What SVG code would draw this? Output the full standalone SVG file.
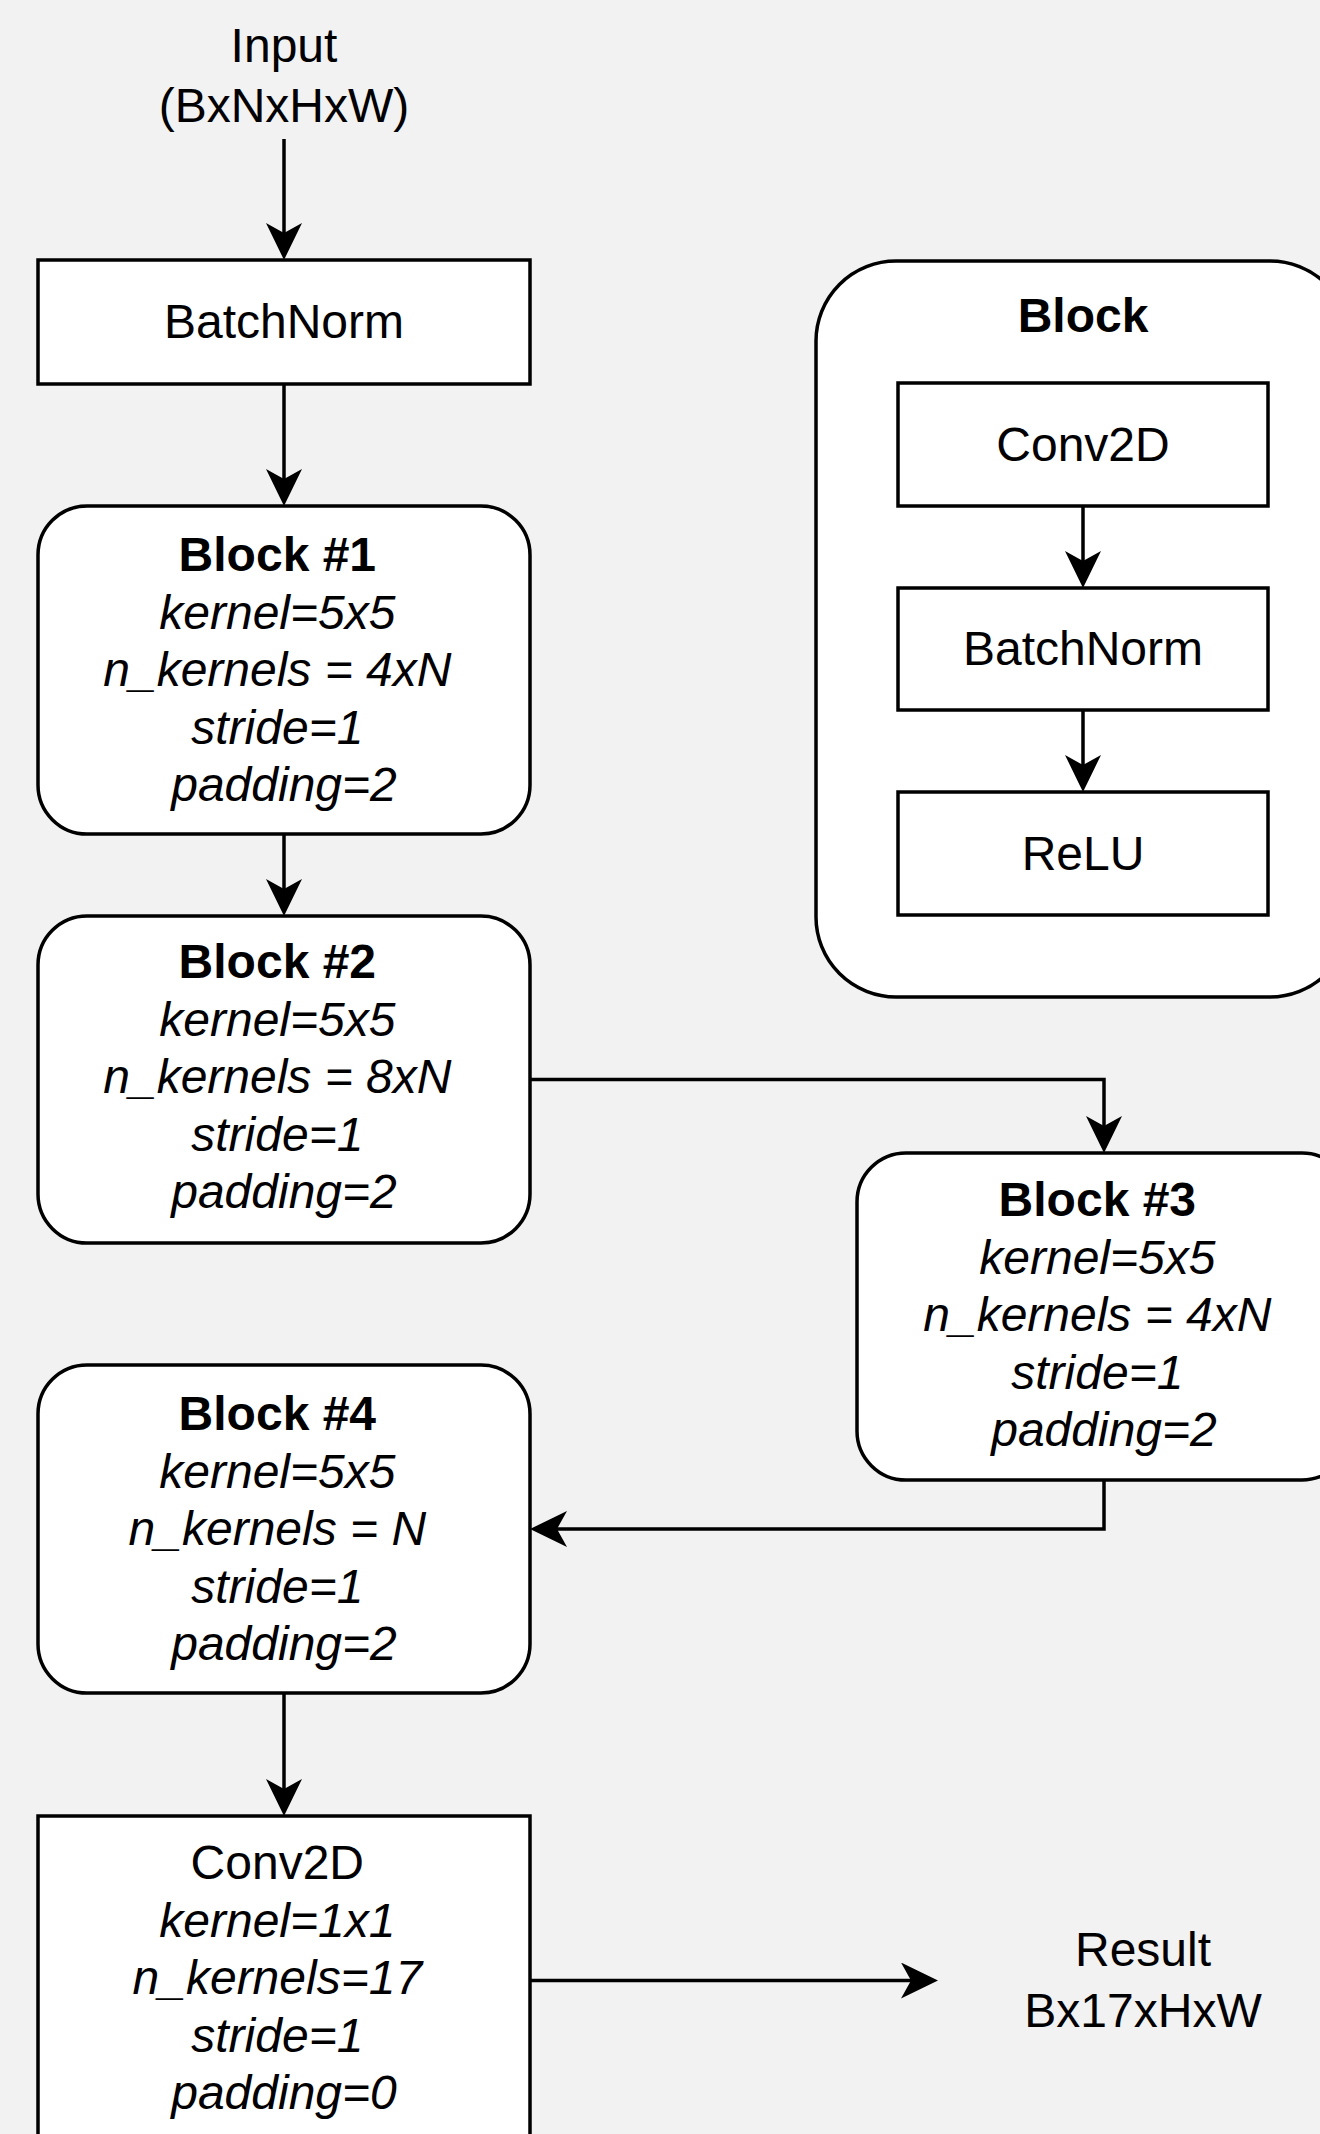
<svg xmlns="http://www.w3.org/2000/svg" width="1320" height="2134" viewBox="0 0 1320 2134">
  <style>
    .box { fill: #ffffff; stroke: #000000; stroke-width: 3.5; }
    .edge { fill: none; stroke: #000000; stroke-width: 3.5; }
    text { font-family: "Liberation Sans", Arial, sans-serif; font-size: 48px; fill: #000000; text-anchor: middle; }
    .b { font-weight: bold; }
    .i { font-style: italic; }
  </style>
  <defs>
    <marker id="arrow" viewBox="0 0 37 36" refX="10" refY="18" markerWidth="37" markerHeight="36" markerUnits="userSpaceOnUse" orient="auto">
      <path d="M0,0 L37,18 L0,36 L10,18 Z" fill="#000000"/>
    </marker>
  </defs>

  <rect width="1320" height="2134" fill="#f2f2f2"/>

  <!-- input label -->
  <g id="input">
    <text x="284" y="62">Input</text>
    <text x="284" y="122">(BxNxHxW)</text>
  </g>

  <g id="batchnorm">
    <rect class="box" x="38" y="260" width="492" height="124"/>
    <text x="284" y="338">BatchNorm</text>
  </g>

  <g id="block1">
    <rect class="box" x="38" y="506" width="492" height="328" rx="49" ry="49"/>
    <text x="284" y="571">
      <tspan class="b" x="284">Block #1</tspan>
      <tspan class="i" x="284" dy="57.6">kernel=5x5</tspan>
      <tspan class="i" x="284" dy="57.6">n_kernels = 4xN</tspan>
      <tspan class="i" x="284" dy="57.6">stride=1</tspan>
      <tspan class="i" x="284" dy="57.6">padding=2</tspan>
    </text>
  </g>

  <g id="block2">
    <rect class="box" x="38" y="916" width="492" height="327" rx="49" ry="49"/>
    <text x="284" y="978">
      <tspan class="b" x="284">Block #2</tspan>
      <tspan class="i" x="284" dy="57.6">kernel=5x5</tspan>
      <tspan class="i" x="284" dy="57.6">n_kernels = 8xN</tspan>
      <tspan class="i" x="284" dy="57.6">stride=1</tspan>
      <tspan class="i" x="284" dy="57.6">padding=2</tspan>
    </text>
  </g>

  <g id="block3">
    <rect class="box" x="857" y="1153" width="494" height="327" rx="49" ry="49"/>
    <text x="1104" y="1216">
      <tspan class="b" x="1104">Block #3</tspan>
      <tspan class="i" x="1104" dy="57.6">kernel=5x5</tspan>
      <tspan class="i" x="1104" dy="57.6">n_kernels = 4xN</tspan>
      <tspan class="i" x="1104" dy="57.6">stride=1</tspan>
      <tspan class="i" x="1104" dy="57.6">padding=2</tspan>
    </text>
  </g>

  <g id="block4">
    <rect class="box" x="38" y="1365" width="492" height="328" rx="49" ry="49"/>
    <text x="284" y="1430">
      <tspan class="b" x="284">Block #4</tspan>
      <tspan class="i" x="284" dy="57.6">kernel=5x5</tspan>
      <tspan class="i" x="284" dy="57.6">n_kernels = N</tspan>
      <tspan class="i" x="284" dy="57.6">stride=1</tspan>
      <tspan class="i" x="284" dy="57.6">padding=2</tspan>
    </text>
  </g>

  <g id="conv-out">
    <rect class="box" x="38" y="1816" width="492" height="329"/>
    <text x="284" y="1879">
      <tspan x="284">Conv2D</tspan>
      <tspan class="i" x="284" dy="57.6">kernel=1x1</tspan>
      <tspan class="i" x="284" dy="57.6">n_kernels=17</tspan>
      <tspan class="i" x="284" dy="57.6">stride=1</tspan>
      <tspan class="i" x="284" dy="57.6">padding=0</tspan>
    </text>
  </g>

  <g id="result">
    <text x="1143" y="1966">Result</text>
    <text x="1143" y="2027">Bx17xHxW</text>
  </g>

  <!-- block legend: container with its three layers -->
  <g id="block-legend">
    <rect class="box" x="816" y="261" width="534" height="736" rx="80" ry="80"/>
    <text class="b" x="1083" y="332">Block</text>
  </g>
  <g id="legend-conv2d">
    <rect class="box" x="898" y="383" width="370" height="123"/>
    <text x="1083" y="461">Conv2D</text>
  </g>
  <g id="legend-batchnorm">
    <rect class="box" x="898" y="588" width="370" height="122"/>
    <text x="1083" y="665">BatchNorm</text>
  </g>
  <g id="legend-relu">
    <rect class="box" x="898" y="792" width="370" height="123"/>
    <text x="1083" y="870">ReLU</text>
  </g>

  <!-- connectors, drawn last so they sit above the container fill -->
  <g id="connectors">
    <path class="edge" d="M284,139 V233" marker-end="url(#arrow)"/>
    <path class="edge" d="M284,384 V479" marker-end="url(#arrow)"/>
    <path class="edge" d="M284,834 V889" marker-end="url(#arrow)"/>
    <path class="edge" d="M530,1079.5 H1104 V1126" marker-end="url(#arrow)"/>
    <path class="edge" d="M1104,1480 V1529 H557" marker-end="url(#arrow)"/>
    <path class="edge" d="M284,1693 V1789" marker-end="url(#arrow)"/>
    <path class="edge" d="M530,1980.5 H911" marker-end="url(#arrow)"/>
    <path class="edge" d="M1083,506 V561" marker-end="url(#arrow)"/>
    <path class="edge" d="M1083,710 V765" marker-end="url(#arrow)"/>
  </g>
</svg>
